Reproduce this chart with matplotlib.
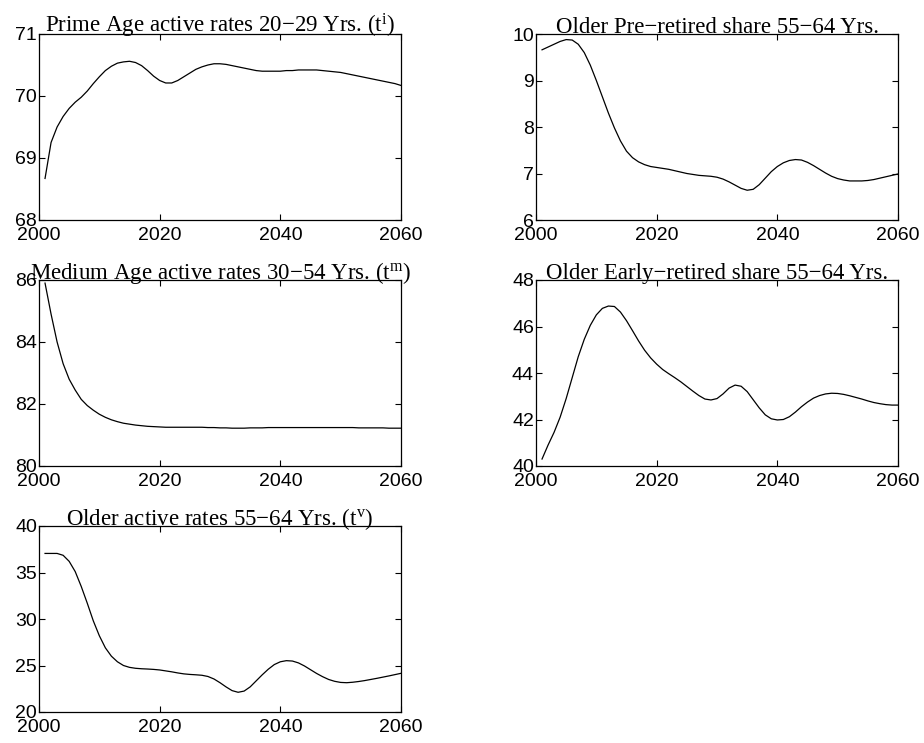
import matplotlib
matplotlib.use("Agg")
import matplotlib.pyplot as plt
import numpy as np

plt.rcParams['mathtext.fontset'] = 'custom'
plt.rcParams['mathtext.rm'] = 'Liberation Serif'
plt.rcParams['mathtext.it'] = 'Liberation Serif'

years = list(range(2001, 2061))

prime_age = [68.67, 69.25, 69.5, 69.67, 69.8, 69.9, 69.98, 70.08, 70.2, 70.31,
             70.41, 70.48, 70.53, 70.55, 70.56, 70.54, 70.49, 70.41, 70.32, 70.25,
             70.21, 70.21, 70.25, 70.31, 70.37, 70.43, 70.47, 70.5, 70.52, 70.52,
             70.51, 70.49, 70.47, 70.45, 70.43, 70.41, 70.40, 70.40, 70.40, 70.40,
             70.41, 70.41, 70.42, 70.42, 70.42, 70.42, 70.41, 70.40, 70.39, 70.38,
             70.36, 70.34, 70.32, 70.30, 70.28, 70.26, 70.24, 70.22, 70.20, 70.17]

pre_retired = [9.66, 9.72, 9.78, 9.84, 9.88, 9.87, 9.78, 9.6, 9.33, 9.0,
               8.65, 8.3, 7.98, 7.7, 7.48, 7.34, 7.25, 7.19, 7.15, 7.13,
               7.11, 7.09, 7.06, 7.03, 7.0, 6.98, 6.96, 6.95, 6.94, 6.92,
               6.88, 6.82, 6.75, 6.68, 6.64, 6.66, 6.76, 6.9, 7.04, 7.15,
               7.23, 7.28, 7.3, 7.29, 7.24, 7.17, 7.09, 7.01, 6.94, 6.89,
               6.86, 6.84, 6.84, 6.84, 6.85, 6.87, 6.9, 6.93, 6.96, 6.99]

medium_age = [85.9, 84.9, 84.0, 83.3, 82.8, 82.45, 82.15, 81.95, 81.8, 81.67,
              81.57, 81.49, 81.43, 81.38, 81.35, 81.32, 81.30, 81.28, 81.27, 81.26,
              81.25, 81.25, 81.25, 81.25, 81.25, 81.25, 81.25, 81.24, 81.24, 81.23,
              81.23, 81.22, 81.22, 81.22, 81.23, 81.23, 81.23, 81.24, 81.24, 81.24,
              81.24, 81.24, 81.24, 81.24, 81.24, 81.24, 81.24, 81.24, 81.24, 81.24,
              81.24, 81.24, 81.23, 81.23, 81.23, 81.23, 81.23, 81.22, 81.22, 81.22]

early_retired = [40.3, 40.9, 41.45, 42.1, 42.9, 43.8, 44.7, 45.45, 46.05, 46.5,
                 46.78, 46.88, 46.86, 46.62, 46.25, 45.82, 45.38, 44.98, 44.65, 44.38,
                 44.15, 43.97, 43.8, 43.62, 43.42, 43.22, 43.03, 42.88, 42.84, 42.9,
                 43.1, 43.35, 43.48, 43.43, 43.2, 42.85, 42.5, 42.2, 42.03, 41.98,
                 42.0, 42.12, 42.32, 42.55, 42.75, 42.92, 43.03, 43.1, 43.13, 43.12,
                 43.08, 43.02, 42.95, 42.88, 42.8, 42.73, 42.68, 42.64, 42.62, 42.62]

older_active = [37.05, 37.05, 37.05, 36.85, 36.2, 35.1, 33.5, 31.7, 29.8, 28.2,
                26.9, 26.0, 25.4, 25.0, 24.8, 24.7, 24.65, 24.62, 24.58, 24.52,
                24.42, 24.32, 24.2, 24.1, 24.04, 24.0, 23.95, 23.82, 23.55, 23.15,
                22.7, 22.3, 22.12, 22.25, 22.7, 23.35, 24.0, 24.6, 25.1, 25.4,
                25.52, 25.48, 25.28, 24.95, 24.55, 24.15, 23.8, 23.5, 23.3, 23.18,
                23.15, 23.2, 23.28, 23.38, 23.5, 23.62, 23.75, 23.88, 24.02, 24.16]

xticks = [2000, 2020, 2040, 2060]

panels = [
    ("Prime Age active rates 20\u221229 Yrs. (t$^{\\rm i}$)", prime_age, (68, 71), [68, 69, 70, 71]),
    ("Older Pre\u2212retired share 55\u221264 Yrs.", pre_retired, (6, 10), [6, 7, 8, 9, 10]),
    ("Medium Age active rates 30\u221254 Yrs. (t$^{\\rm m}$)", medium_age, (80, 86), [80, 82, 84, 86]),
    ("Older Early\u2212retired share 55\u221264 Yrs.", early_retired, (40, 48), [40, 42, 44, 46, 48]),
    ("Older active rates 55\u221264 Yrs. (t$^{\\rm v}$)", older_active, (20, 40), [20, 25, 30, 35, 40]),
]

W, H = 924, 743
fig = plt.figure(figsize=(W / 100, H / 100), dpi=100)

lefts = [39, 536]
tops = [34, 280, 526]
aw, ah = 362, 186

for i, (title, vals, ylim, yticks) in enumerate(panels):
    r, c = divmod(i, 2)
    l = lefts[c]
    t = tops[r]
    ax = fig.add_axes([l / W, 1 - (t + ah) / H, aw / W, ah / H])
    ax.plot(years, vals, color='black', linewidth=0.9)
    ax.set_xlim(2000, 2060)
    ax.set_ylim(*ylim)
    ax.set_xticks(xticks)
    ax.set_yticks(yticks)
    ax.tick_params(direction='in', top=True, right=True, length=4, width=0.8,
                   labelsize=14)
    ax.tick_params(axis='x', pad=5)
    ax.tick_params(axis='y', pad=1.5)
    for lab in ax.get_xticklabels() + ax.get_yticklabels():
        lab.set_family('Liberation Sans')
    for s in ax.spines.values():
        s.set_linewidth(0.9)
    ax.set_title(title, family='Liberation Serif', fontsize=16.5, pad=1)

fig.savefig("out.png", dpi=100)
